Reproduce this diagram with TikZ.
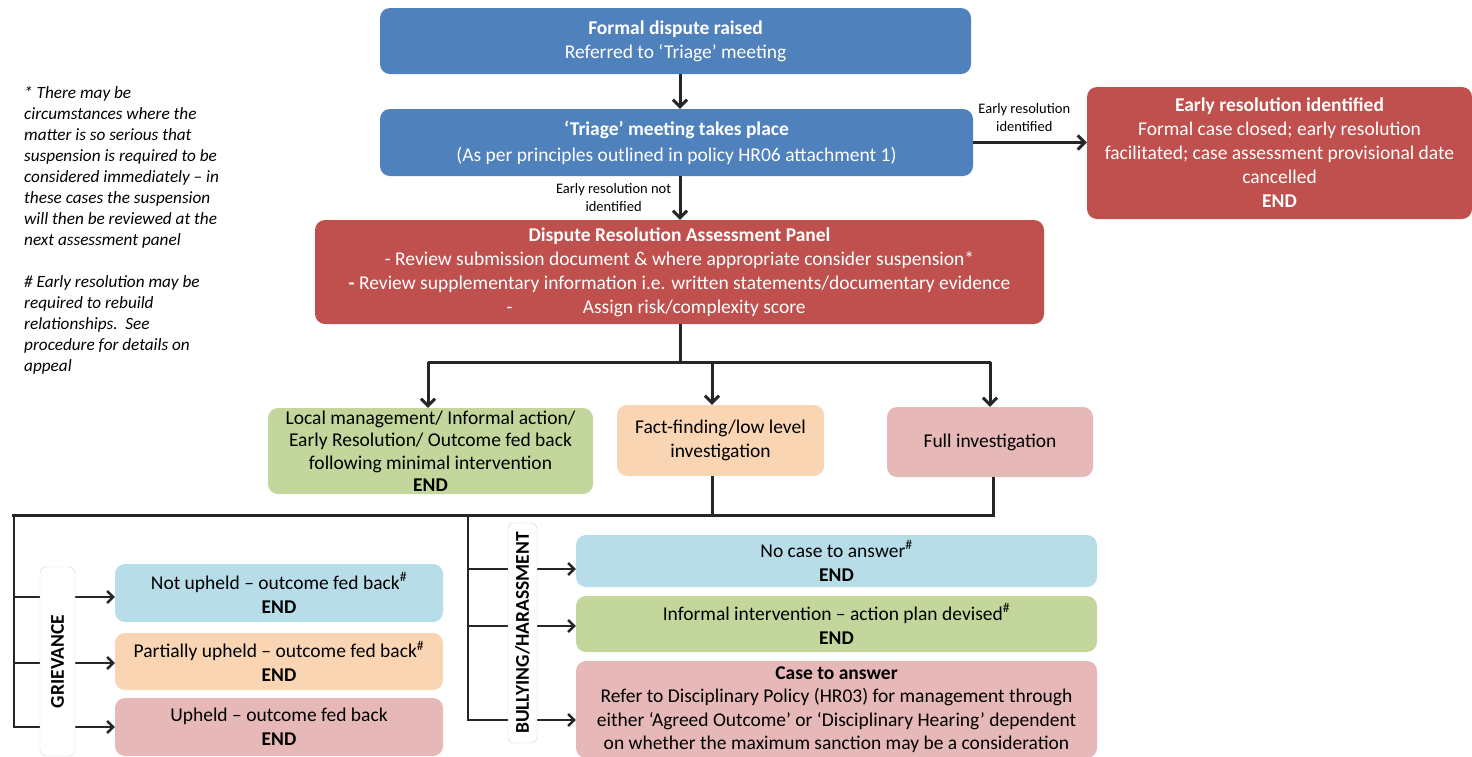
\documentclass[tikz,border=0pt]{standalone}
\usepackage{fontspec}
\setmainfont{Carlito}
\usepackage{tikz}
\usetikzlibrary{arrows.meta,positioning}

\definecolor{hrblue}{HTML}{4F81BD}
\definecolor{hrred}{HTML}{C0504D}
\definecolor{hrgreen}{HTML}{C3D69B}
\definecolor{hrpeach}{HTML}{FAD5B3}
\definecolor{hrpink}{HTML}{E6B9B8}
\definecolor{hrcyan}{HTML}{B7DDE8}
\definecolor{hrline}{HTML}{262626}

\begin{document}
\begin{tikzpicture}[
  x=1pt, y=-1pt,
  box/.style={rectangle, rounded corners=10pt, align=center, inner sep=2pt,
              font=\fontsize{19.5}{24}\selectfont},
  dark/.style={box, text=white},
  stage/.style={dark, fill=hrblue},
  panelbox/.style={dark, fill=hrred},
  greenbox/.style={box, fill=hrgreen},
  peachbox/.style={box, fill=hrpeach},
  pinkbox/.style={box, fill=hrpink},
  cyanbox/.style={box, fill=hrcyan},
  sidelabel/.style={rectangle, rounded corners=6pt, draw=gray!35, fill=white,
                    rotate=90, inner sep=0pt, font=\fontsize{19.5}{24}\selectfont\bfseries},
  arr/.style={-{Straight Barb[length=7pt,width=14pt]}, line width=3pt, draw=hrline},
  arrlow/.style={-{Straight Barb[length=6pt,width=12pt]}, line width=2.5pt, draw=hrline},
  ln/.style={line width=3pt, draw=hrline},
  lnlow/.style={line width=2.5pt, draw=hrline},
  lbl/.style={font=\fontsize{14.5}{18}\selectfont, align=center},
  note/.style={font=\fontsize{17.2}{21}\selectfont\itshape, align=left, inner sep=0pt}
]
\useasboundingbox (0,0) rectangle (1472,756);

% top of the flow
\node[stage, minimum width=591pt, minimum height=66pt] (formal) at (675.5,41)
  {\textbf{Formal dispute raised}\\Referred to ‘Triage’ meeting};
\node[stage, minimum width=593pt, minimum height=67pt, font=\fontsize{19.5}{26}\selectfont] (triage) at (676.5,142.5)
  {\textbf{‘Triage’ meeting takes place}\\(As per principles outlined in policy HR06 attachment 1)};
\node[panelbox, minimum width=385pt, minimum height=132pt] (early) at (1279.5,153)
  {\textbf{Early resolution identified}\\Formal case closed; early resolution\\facilitated; case assessment provisional date\\cancelled\\\textbf{END}};
\node[panelbox, minimum width=729pt, minimum height=104pt] (panel) at (679.5,272)
  {\textbf{Dispute Resolution Assessment Panel}\\
   - Review submission document \& where appropriate consider suspension*\\
   \textbf{-} Review supplementary information i.e. written statements/documentary evidence\\
   -\hspace{3.6em}Assign risk/complexity score\hspace{2.4em}\mbox{}};

% outcomes of the panel
\node[greenbox, minimum width=325pt, minimum height=86pt, font=\fontsize{19.5}{22.5}\selectfont] (local) at (430.5,451)
  {Local management/ Informal action/\\Early Resolution/ Outcome fed back\\following minimal intervention\\\textbf{END}};
\node[peachbox, minimum width=207pt, minimum height=71pt] (fact) at (720.5,440.5)
  {Fact-finding/low level\\investigation};
\node[pinkbox, minimum width=206pt, minimum height=70pt] (full) at (990,442)
  {Full investigation};

% grievance results
\node[cyanbox, minimum width=328pt, minimum height=58pt] (notup) at (279,593)
  {Not upheld -- outcome fed back\textsuperscript{\#}\\\textbf{END}};
\node[peachbox, minimum width=328pt, minimum height=57pt] (partup) at (279,661.5)
  {Partially upheld -- outcome fed back\textsuperscript{\#}\\\textbf{END}};
\node[pinkbox, minimum width=328pt, minimum height=58pt] (upheld) at (279,727)
  {Upheld -- outcome fed back\\\textbf{END}};

% bullying/harassment results
\node[cyanbox, minimum width=521pt, minimum height=52pt] (nocase) at (836.5,561)
  {No case to answer\textsuperscript{\#}\\\textbf{END}};
\node[greenbox, minimum width=521pt, minimum height=56pt] (informal) at (836.5,624)
  {Informal intervention -- action plan devised\textsuperscript{\#}\\\textbf{END}};
\node[pinkbox, minimum width=521pt, minimum height=97pt, font=\fontsize{19.5}{23.5}\selectfont] (caseans) at (836.5,709.5)
  {\textbf{Case to answer}\\Refer to Disciplinary Policy (HR03) for management through\\either ‘Agreed Outcome’ or ‘Disciplinary Hearing’ dependent\\on whether the maximum sanction may be a consideration};

% notes
\node[note, anchor=north west] (notes) at (24,86)
  {* There may be\\circumstances where the\\matter is so serious that\\suspension is required to be\\considered immediately -- in\\these cases the suspension\\will then be reviewed at the\\next assessment panel\\[21pt]
   \# Early resolution may be\\required to rebuild\\relationships.\ \ See\\procedure for details on\\appeal};

% connectors
\coordinate (spine) at (680,0);
\draw[arr] (formal.south -| spine) -- (triage.north -| spine);
\draw[arr] (triage.south -| spine) -- (panel.north -| spine)
  node[lbl, pos=0.5, left=4pt] (notid) {Early resolution not\\identified};
\draw[arr] (triage.east) -- (triage.east -| early.west)
  node[lbl, pos=0.45, above=6pt] (isid) {Early resolution\\identified};

\draw[ln] (panel.south -| spine) -- ++(0,38) coordinate (fork);
\draw[ln] ([xshift=-2.5pt]fork -| local) -- ([xshift=1.3pt]fork -| full);
\draw[arr] ([xshift=-2.5pt]fork -| local) -- ([xshift=-2.5pt]local.north);
\draw[arr] ([xshift=-8.5pt]fork -| fact) -- ([xshift=-8.5pt]fact.north);
\draw[arr] (fork -| full) -- (full.north);

\coordinate (gtop) at (14,515);
\coordinate (btop) at (468,515);
\draw[ln] ([xshift=-8.5pt]fact.south) -- ([xshift=-8.5pt]fact.south |- gtop);
\draw[ln] ([xshift=3pt]full.south) -- ([xshift=3pt]full.south |- gtop) -- ([xshift=-2pt]gtop);

% grievance branch
\draw[lnlow] (gtop) -- (gtop |- upheld.west);
\draw[arrlow] ([yshift=-4pt]gtop |- notup.west) -- ([yshift=-4pt]notup.west);
\draw[arrlow] ([yshift=-1.5pt]gtop |- partup.west) -- ([yshift=-1.5pt]partup.west);
\draw[arrlow] ([xshift=-1pt]gtop |- upheld.west) -- (upheld.west);

% bullying branch
\draw[lnlow] (btop) -- ([yshift=-10.5pt]btop |- caseans.west);
\draw[arrlow] ([yshift=-8pt]btop |- nocase.west) -- ([yshift=-8pt]nocase.west);
\draw[arrlow] ([yshift=-2pt]btop |- informal.west) -- ([yshift=-2pt]informal.west);
\draw[arrlow] ([yshift=-10.5pt,xshift=-1pt]btop |- caseans.west) -- ([yshift=-10.5pt]caseans.west);

% side labels drawn on top of the branch lines
\node[sidelabel, minimum width=189pt, minimum height=35pt] (griev) at (57.5,661.5) {GRIEVANCE};
\node[sidelabel, minimum width=220pt, minimum height=29pt] (bully) at (522.5,633) {BULLYING/HARASSMENT};
\end{tikzpicture}
\end{document}
